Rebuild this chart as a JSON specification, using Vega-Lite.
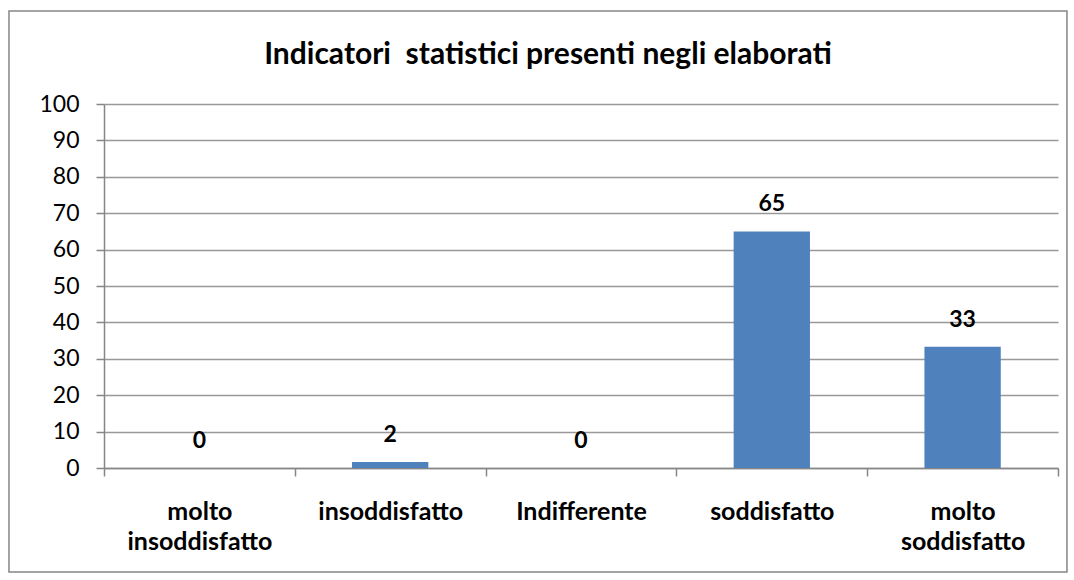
{
  "$schema": "https://vega.github.io/schema/vega-lite/v6.json",
  "width": 954,
  "height": 364,
  "padding": {"left": 8, "top": 10, "right": 8, "bottom": 9},
  "autosize": {"type": "pad"},
  "background": "white",
  "config": {"view": {"stroke": null}, "font": "Lato"},
  "title": {
    "text": "Indicatori \u00a0statistici presenti negli elaborati",
    "font": "Lato",
    "fontSize": 30,
    "fontWeight": "bold",
    "color": "black",
    "anchor": "middle",
    "dx": -33,
    "offset": -60
  },
  "layer": [
    {
      "data": {"values": [{"border": 1}]},
      "mark": {"type": "rect", "fill": null, "stroke": "#868686", "strokeWidth": 1.5, "clip": false},
      "encoding": {
        "x": {"datum": -0.0996, "type": "quantitative", "scale": {"domain": [0, 1], "nice": false, "zero": false}, "axis": null},
        "x2": {"datum": 1.0094},
        "y": {"datum": -28.57, "type": "quantitative", "scale": {"domain": [0, 100], "nice": false}, "axis": null},
        "y2": {"datum": 125.55}
      }
    },
    {
      "data": {
        "values": [
          {"categoria": "molto insoddisfatto", "valore": 0},
          {"categoria": "insoddisfatto", "valore": 1.67},
          {"categoria": "Indifferente", "valore": 0},
          {"categoria": "soddisfatto", "valore": 65},
          {"categoria": "molto soddisfatto", "valore": 33.33}
        ]
      },
      "encoding": {
        "x": {
          "field": "categoria",
          "type": "nominal",
          "sort": null,
          "scale": {"paddingInner": 0, "paddingOuter": 0},
          "axis": {
            "title": null,
            "labelAngle": 0,
            "labelExpr": "isValid(datum.value) ? split(datum.value, ' ') : ''",
            "labelFont": "Lato",
            "labelFontSize": 25,
            "labelFontWeight": "bold",
            "labelColor": "black",
            "labelLineHeight": 30,
            "labelPadding": 23,
            "labelBaseline": "top",
            "tickBand": "extent",
            "tickSize": 8,
            "tickColor": "#868686",
            "tickWidth": 1.5,
            "domainColor": "#868686",
            "domainWidth": 1.5
          }
        },
        "y": {
          "field": "valore",
          "type": "quantitative",
          "scale": {"domain": [0, 100], "nice": false},
          "axis": {
            "title": null,
            "values": [0, 10, 20, 30, 40, 50, 60, 70, 80, 90, 100],
            "labelFont": "Lato",
            "labelFontSize": 23,
            "labelColor": "black",
            "labelPadding": 17,
            "labelOverlap": false,
            "tickSize": 8,
            "tickColor": "#868686",
            "tickWidth": 1.5,
            "domainColor": "#868686",
            "domainWidth": 1.5,
            "grid": true,
            "gridColor": "#999999",
            "gridWidth": 1.5
          }
        }
      },
      "layer": [
        {"mark": {"type": "bar", "color": "#4F81BD", "width": {"band": 0.4}}},
        {
          "mark": {"type": "text", "baseline": "bottom", "dy": -15, "font": "Lato", "fontSize": 23, "fontWeight": "bold", "color": "black"},
          "encoding": {"text": {"field": "valore", "type": "quantitative", "format": ".0f"}}
        }
      ]
    }
  ],
  "resolve": {"scale": {"x": "independent"}, "axis": {"x": "independent", "y": "independent"}}
}
